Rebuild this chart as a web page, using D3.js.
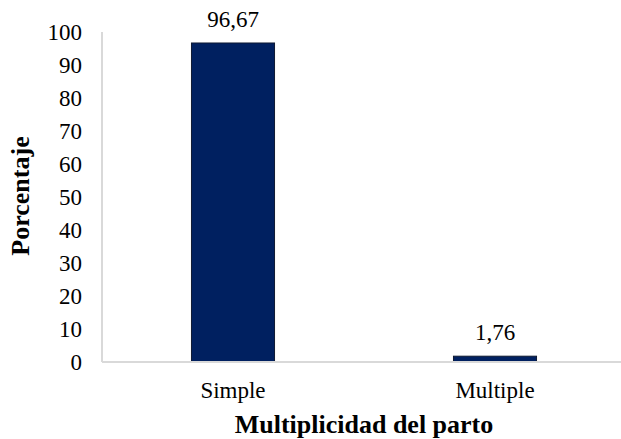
<!DOCTYPE html>
<html>
<head>
<meta charset="utf-8">
<script src="https://cdn.jsdelivr.net/npm/d3@7"></script>
<style>
  html, body { margin: 0; padding: 0; background: #fff; }
  svg { display: block; }
  svg text { font-family: 'Liberation Serif', 'Times New Roman', Tinos, 'DejaVu Serif', serif; fill: #000; }
</style>
</head>
<body>
<svg id="chart" width="621" height="439"></svg>
<script>
// Birth multiplicity, percentage of births
const categories = ["Simple", "Multiple"];
const values = [96.67, 1.76];
const valueLabels = ["96,67", "1,76"];
const yTicks = [0, 10, 20, 30, 40, 50, 60, 70, 80, 90, 100];

const serif = "'Liberation Serif', 'Times New Roman', Tinos, 'DejaVu Serif', serif";
const svg = d3.select("#chart");
const plotLeft = 102, bandRight = 626, plotTop = 32, plotBottom = 362;

const x = d3.scaleBand().domain(categories).range([plotLeft, bandRight]).padding(0);
const y = d3.scaleLinear().domain([0, 100]).range([plotBottom, plotTop]);
const barW = x.bandwidth() * 0.317;

// vertical axis line
svg.append("line")
  .attr("x1", plotLeft).attr("x2", plotLeft)
  .attr("y1", y(100)).attr("y2", y(0))
  .attr("stroke", "#d9d9d9").attr("stroke-width", 2);

// y tick labels
const yAxis = d3.axisLeft(y).tickValues(yTicks).tickSize(0).tickPadding(20);
const gy = svg.append("g").attr("transform", `translate(${plotLeft},0)`).call(yAxis);
gy.attr("font-family", null).attr("font-size", null);
gy.select(".domain").remove();
gy.selectAll("text")
  .style("font-family", serif)
  .style("font-size", "23px").attr("fill", "#000");

// bars
svg.append("g").selectAll("rect")
  .data(values)
  .join("rect")
  .attr("x", (d, i) => x(categories[i]) + x.bandwidth() / 2 - barW / 2)
  .attr("y", d => y(d))
  .attr("width", barW)
  .attr("height", d => y(0) - y(d))
  .attr("fill", "#002060")
  .attr("stroke", "#0f1a33")
  .attr("stroke-width", 1);

// baseline
svg.append("line")
  .attr("x1", plotLeft).attr("x2", 621)
  .attr("y1", y(0)).attr("y2", y(0))
  .attr("stroke", "#d9d9d9").attr("stroke-width", 2);

// value labels
svg.append("g").selectAll("text")
  .data(values)
  .join("text")
  .attr("x", (d, i) => x(categories[i]) + x.bandwidth() / 2)
  .attr("y", d => y(d) - 16)
  .attr("text-anchor", "middle")
  .style("font-family", serif)
  .style("font-size", "23px")
  .text((d, i) => valueLabels[i]);

// category labels
svg.append("g").selectAll("text")
  .data(categories)
  .join("text")
  .attr("x", d => x(d) + x.bandwidth() / 2)
  .attr("y", 398)
  .attr("text-anchor", "middle")
  .style("font-family", serif)
  .style("font-size", "23px")
  .text(d => d);

// axis titles
svg.append("text")
  .attr("x", 364).attr("y", 433)
  .attr("text-anchor", "middle")
  .style("font-family", serif)
  .style("font-size", "26px").style("font-weight", "bold")
  .text("Multiplicidad del parto");

svg.append("text")
  .attr("transform", "translate(29,196) rotate(-90)")
  .attr("text-anchor", "middle")
  .style("font-family", serif)
  .style("font-size", "26px").style("font-weight", "bold")
  .text("Porcentaje");
</script>
</body>
</html>
